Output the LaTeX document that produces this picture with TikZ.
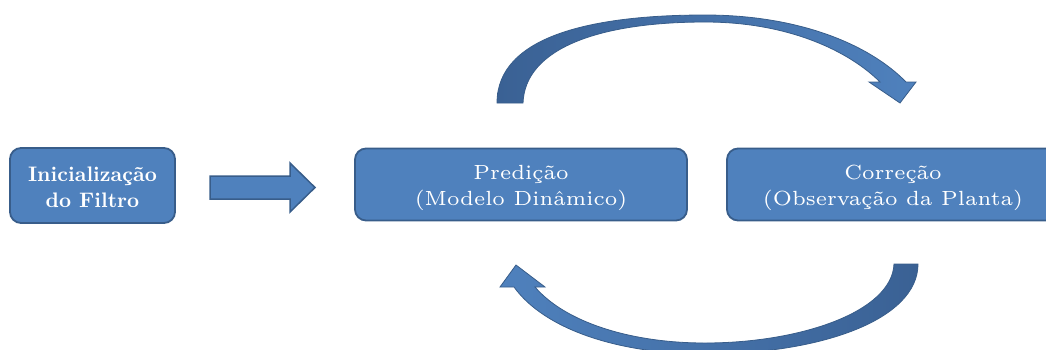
\documentclass[tikz,border=0pt]{standalone}
\usepackage{fontspec}
\newfontfamily\lmsix{lmroman6-regular.otf}[BoldFont=lmroman6-bold.otf]
\newfontfamily\lmbold{lmroman10-bold.otf}
\definecolor{boxfill}{HTML}{4F81BD}
\definecolor{boxline}{HTML}{385D8A}
\definecolor{arrdark}{HTML}{3A6194}
\begin{document}
\begin{tikzpicture}[x=1pt,y=-1pt]
\useasboundingbox (0,0) rectangle (1046,349);
\clip (0,0) rectangle (1046,349);
\tikzset{
  blk/.style={draw=boxline, line width=1.8pt, fill=boxfill, rounded corners=11pt, inner sep=0pt},
  txt/.style={text=white, align=center, inner sep=0pt, font=\lmsix\fontsize{20.5}{26}\selectfont},
  txtbold/.style={txt, font=\lmbold\fontsize{21}{26}\selectfont},
  curvearrow/.style={draw=boxline, line width=0.8pt}
}
\node[blk, minimum width=165pt, minimum height=75pt] (init) at (92.5,185.5) {};
\node[blk, minimum width=332pt, minimum height=72pt] (pred) at (521,184.5) {};
\node[blk, minimum width=332pt, minimum height=72pt] (corr) at (893,184.5) {};
\node[txtbold] (inittxt) at ([yshift=-2pt]init.center) {Inicialização\\do Filtro};
\node[txt] (predtxt) at ([yshift=-3pt]pred.center) {Predição\\(Modelo Dinâmico)};
\node[txt] (corrtxt) at ([yshift=-3pt]corr.center) {Correção\\(Observação da Planta)};
% straight block arrow
\coordinate (a1) at (210,187.5);
\coordinate (a2) at (315,187.5);
\fill[boxfill, draw=boxline, line width=1.5pt]
  ([yshift=11.5pt]a1) -- ([xshift=-25pt,yshift=11.5pt]a2) -- ([xshift=-25pt,yshift=24.5pt]a2)
  -- (a2) -- ([xshift=-25pt,yshift=-24.5pt]a2) -- ([xshift=-25pt,yshift=-11.5pt]a2)
  -- ([yshift=-11.5pt]a1) -- cycle;
% top curved arrow (pred -> corr)
\shade[left color=arrdark, right color=boxfill, curvearrow]
  (497,103) .. controls (497,36) and (592,15) .. (705,15)
  .. controls (800,15) and (870,45) .. (906,82)
  -- (916,82) -- (900,103) -- (869,82) -- (880,82)
  .. controls (850,52) and (790,22) .. (705,22)
  .. controls (600,22) and (525,48) .. (523,103) -- cycle;
% bottom curved arrow (corr -> pred)
\shade[left color=boxfill, right color=arrdark, curvearrow]
  (918,264) .. controls (918,320) and (820,354) .. (705,354)
  .. controls (620,354) and (545,330) .. (514,287)
  -- (500,287) -- (516,265) -- (545,287) -- (535,287)
  .. controls (565,322) and (630,343) .. (705,343)
  .. controls (800,343) and (892,312) .. (894,264) -- cycle;
\end{tikzpicture}
\end{document}
